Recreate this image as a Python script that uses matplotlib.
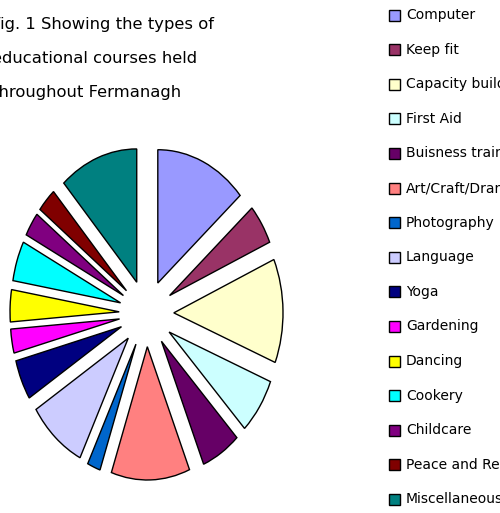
import matplotlib.pyplot as plt
from matplotlib.patches import Rectangle

courses = ['Computer', 'Keep fit', 'Capacity building', 'First Aid',
           'Buisness training', 'Art/Craft/Drama', 'Photography', 'Language',
           'Yoga', 'Gardening', 'Dancing', 'Cookery', 'Childcare',
           'Peace and Reconciliation', 'Miscellaneous']
counts = [14, 5, 13, 7, 6, 12, 2, 9, 5, 3, 4, 5, 3, 3, 12]
colours = ['#9999FF', '#993366', '#FFFFCC', '#CCFFFF', '#660066', '#FF8080',
           '#0066CC', '#CCCCFF', '#000080', '#FF00FF', '#FFFF00', '#00FFFF',
           '#800080', '#800000', '#008080']

W, H = 500, 513
fig = plt.figure(figsize=(W / 100, H / 100), dpi=100)

# stretched (elliptical) exploded pie
ax = fig.add_axes([10 / W, 1 - 480 / H, 273 / W, 331 / H])
ax.pie(counts, colors=colours, explode=[0.25] * len(counts), startangle=90,
       counterclock=False, wedgeprops=dict(edgecolor='black', linewidth=1))
ax.set_aspect('auto')
ax.set_xlim(-1.25, 1.25)
ax.set_ylim(-1.25, 1.233)
ax.axis('off')

# title, cut off at the left edge like the original
title_lines = ['Fig. 1 Showing the types of', 'educational courses held',
               'throughout Fermanagh']
for i, line in enumerate(title_lines):
    fig.text(-8 / W, 1 - (25 + i * 33.5) / H, line, fontsize=11.8,
             ha='left', va='center')

# legend drawn by hand so spacing matches
for i, (name, col) in enumerate(zip(courses, colours)):
    yc = 15 + i * 34.6
    fig.patches.append(Rectangle((389 / W, 1 - (yc + 5.5) / H), 11 / W, 11 / H,
                                 facecolor=col, edgecolor='black', linewidth=1,
                                 transform=fig.transFigure))
    fig.text(406 / W, 1 - yc / H, name, fontsize=10, ha='left', va='center')

fig.savefig('out.png', dpi=100)
